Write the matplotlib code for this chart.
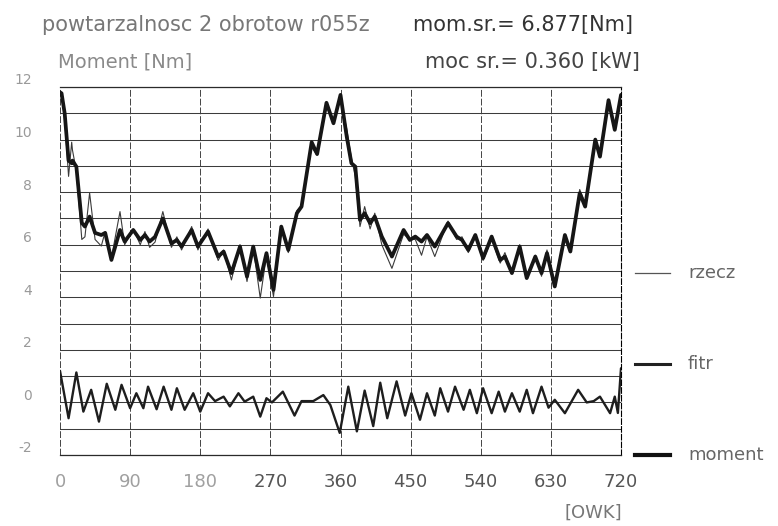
import numpy as np
import matplotlib.pyplot as plt
from matplotlib.lines import Line2D
from matplotlib.transforms import ScaledTranslation

# crank angle [deg] and torque [Nm] of the averaged curve
kat = [0, 2, 6, 11, 15, 16, 21, 28, 32, 38, 45, 53, 58, 66, 77, 83, 94, 103, 109, 115,
       122, 132, 143, 150, 156, 169, 177, 190, 203, 210, 220, 231, 240, 248, 257, 265,
       274, 284, 293, 304, 310, 323, 330, 342, 351, 360, 368, 374, 379, 385, 391, 398,
       404, 413, 426, 441, 449, 456, 464, 471, 481, 498, 509, 516, 524, 533, 543, 554,
       565, 571, 580, 590, 599, 610, 618, 625, 635, 648, 655, 667, 674, 687, 693, 704,
       712, 720]
moment = [11.8, 11.76, 11.0, 9.2, 9.1, 9.2, 8.97, 6.83, 6.69, 7.07, 6.45, 6.37, 6.45,
          5.42, 6.56, 6.12, 6.56, 6.18, 6.37, 6.12, 6.3, 7.0, 6.05, 6.18, 5.93, 6.56,
          5.93, 6.5, 5.55, 5.74, 4.92, 5.93, 4.79, 5.93, 4.66, 5.68, 4.28, 6.69, 5.8,
          7.2, 7.45, 9.9, 9.45, 11.4, 10.62, 11.7, 10.11, 9.1, 8.97, 6.94, 7.2, 6.82,
          7.07, 6.31, 5.55, 6.56, 6.18, 6.31, 6.12, 6.37, 5.93, 6.82, 6.31, 6.18, 5.8,
          6.37, 5.49, 6.31, 5.42, 5.55, 4.92, 5.93, 4.73, 5.55, 4.92, 5.68, 4.41, 6.37,
          5.74, 7.96, 7.45, 10.0, 9.35, 11.5, 10.37, 11.7]
# measured (raw) torque at the same angles
rzecz = [11.8, 11.7, 10.8, 8.6, 9.9, 9.6, 8.8, 6.2, 6.3, 7.97, 6.2, 5.95, 6.5, 5.5,
         7.26, 6.0, 6.6, 6.0, 6.5, 5.9, 6.1, 7.26, 5.9, 6.3, 5.8, 6.69, 5.8, 6.6, 5.4,
         5.8, 4.66, 6.0, 4.6, 5.9, 3.97, 5.6, 4.03, 6.6, 5.7, 7.3, 7.5, 9.7, 9.4, 11.3,
         10.7, 11.5, 10.4, 9.3, 8.6, 6.69, 7.45, 6.6, 7.2, 6.0, 5.1, 6.4, 6.2, 6.2, 5.6,
         6.3, 5.55, 6.9, 6.2, 6.3, 5.7, 6.3, 5.4, 6.2, 5.3, 5.7, 4.9, 6.0, 4.8, 5.6, 4.8,
         5.8, 4.5, 6.3, 5.8, 8.1, 7.6, 9.9, 9.4, 11.4, 10.5, 11.6]

# filtered difference signal
kat_f = [0, 11, 21, 30, 40, 50, 60, 71, 79, 90, 98, 107, 113, 124, 133, 143, 150, 160,
         171, 180, 190, 199, 210, 218, 229, 237, 248, 257, 265, 272, 286, 301, 310, 325,
         338, 347, 359, 370, 381, 391, 402, 411, 420, 432, 443, 451, 462, 471, 481, 488,
         498, 507, 518, 526, 535, 543, 554, 563, 571, 580, 590, 599, 607, 618, 627, 635,
         648, 665, 676, 685, 693, 706, 712, 716, 720]
fitr = [1.2, -0.6, 1.14, -0.35, 0.48, -0.73, 0.71, -0.28, 0.67, -0.22, 0.35, -0.22,
        0.6, -0.26, 0.6, -0.28, 0.54, -0.28, 0.35, -0.35, 0.35, 0.05, 0.22, -0.15, 0.35,
        0.03, 0.22, -0.54, 0.16, 0.0, 0.41, -0.5, 0.05, 0.05, 0.28, -0.1, -1.16, 0.6,
        -1.1, 0.45, -0.9, 0.75, -0.6, 0.8, -0.5, 0.35, -0.66, 0.35, -0.5, 0.54, -0.35,
        0.6, -0.28, 0.48, -0.41, 0.54, -0.41, 0.41, -0.35, 0.35, -0.35, 0.48, -0.41, 0.6,
        -0.2, 0.1, -0.41, 0.48, 0.0, 0.05, 0.22, -0.41, 0.22, -0.4, 1.3]

x_ticks = [0, 90, 180, 270, 360, 450, 540, 630, 720]
y_ticks = [-2, 0, 2, 4, 6, 8, 10, 12]

W, H = 778, 526
fig = plt.figure(figsize=(W / 100, H / 100), dpi=100)
ax = fig.add_axes([60 / W, 1 - 455 / H, 561 / W, 368 / H])

ax.plot(kat, rzecz, color='#3a3a3a', lw=0.8, zorder=3)
ax.plot(kat, moment, color='#161616', lw=2.7, zorder=4,
        solid_joinstyle='round', solid_capstyle='round')
ax.plot(kat_f, fitr, color='#1e1e1e', lw=1.7, zorder=4,
        solid_joinstyle='round', solid_capstyle='round')

ax.set_xlim(0, 720)
ax.set_ylim(-2, 12)
ax.set_xticks(x_ticks)
ax.set_xticklabels([str(v) for v in x_ticks])
ax.set_yticks(y_ticks)
ax.set_yticklabels([str(v) for v in y_ticks])
ax.set_yticks(np.arange(-2, 13, 1), minor=True)
ax.grid(True, axis='y', which='both', color='#3c3c3c', lw=0.75)
ax.grid(True, axis='x', which='major', color='#444444', lw=0.7, ls=(0, (7, 2)))
ax.tick_params(axis='both', which='both', length=0)
ax.tick_params(axis='x', pad=13, labelsize=13, labelcolor='#555555')
ax.tick_params(axis='y', pad=20, labelsize=10, labelcolor='#9a9a9a')

ax.spines['left'].set_visible(False)
ax.spines['right'].set_linestyle((0, (5, 2)))
ax.spines['right'].set_linewidth(0.8)
for s in ['top', 'bottom']:
    ax.spines[s].set_linewidth(0.9)
    ax.spines[s].set_color('#2a2a2a')

# y labels sit a little above their grid lines
shift = ScaledTranslation(0, 8 / 100, fig.dpi_scale_trans)
for lab in ax.get_yticklabels():
    lab.set_transform(lab.get_transform() + shift)
for lab in ax.get_xticklabels()[:3]:
    lab.set_color('#a0a0a0')

fig.text(42 / W, 1 - 25 / H, 'powtarzalnosc 2 obrotow r055z', fontsize=15,
         color='#777777', va='center', ha='left')
fig.text(413 / W, 1 - 25 / H, 'mom.sr.= 6.877[Nm]', fontsize=15,
         color='#333333', va='center', ha='left')
fig.text(58 / W, 1 - 62 / H, 'Moment [Nm]', fontsize=14,
         color='#8a8a8a', va='center', ha='left')
fig.text(425 / W, 1 - 62 / H, 'moc sr.= 0.360 [kW]', fontsize=15,
         color='#444444', va='center', ha='left')
fig.text(622 / W, 1 - 513 / H, '[OWK]', fontsize=13,
         color='#777777', va='center', ha='right')

# legend entries on the right
legend = [('rzecz', 0.9, '#555555', 273), ('fitr', 2.2, '#222222', 364),
          ('moment', 3.0, '#111111', 455)]
for name, lw, col, ypx in legend:
    yy = 1 - ypx / H
    fig.add_artist(Line2D([635 / W, 670 / W], [yy, yy], color=col, lw=lw))
    fig.text(688 / W, yy, name, fontsize=13, color='#666666', va='center', ha='left')

fig.savefig('out.png', dpi=100)
